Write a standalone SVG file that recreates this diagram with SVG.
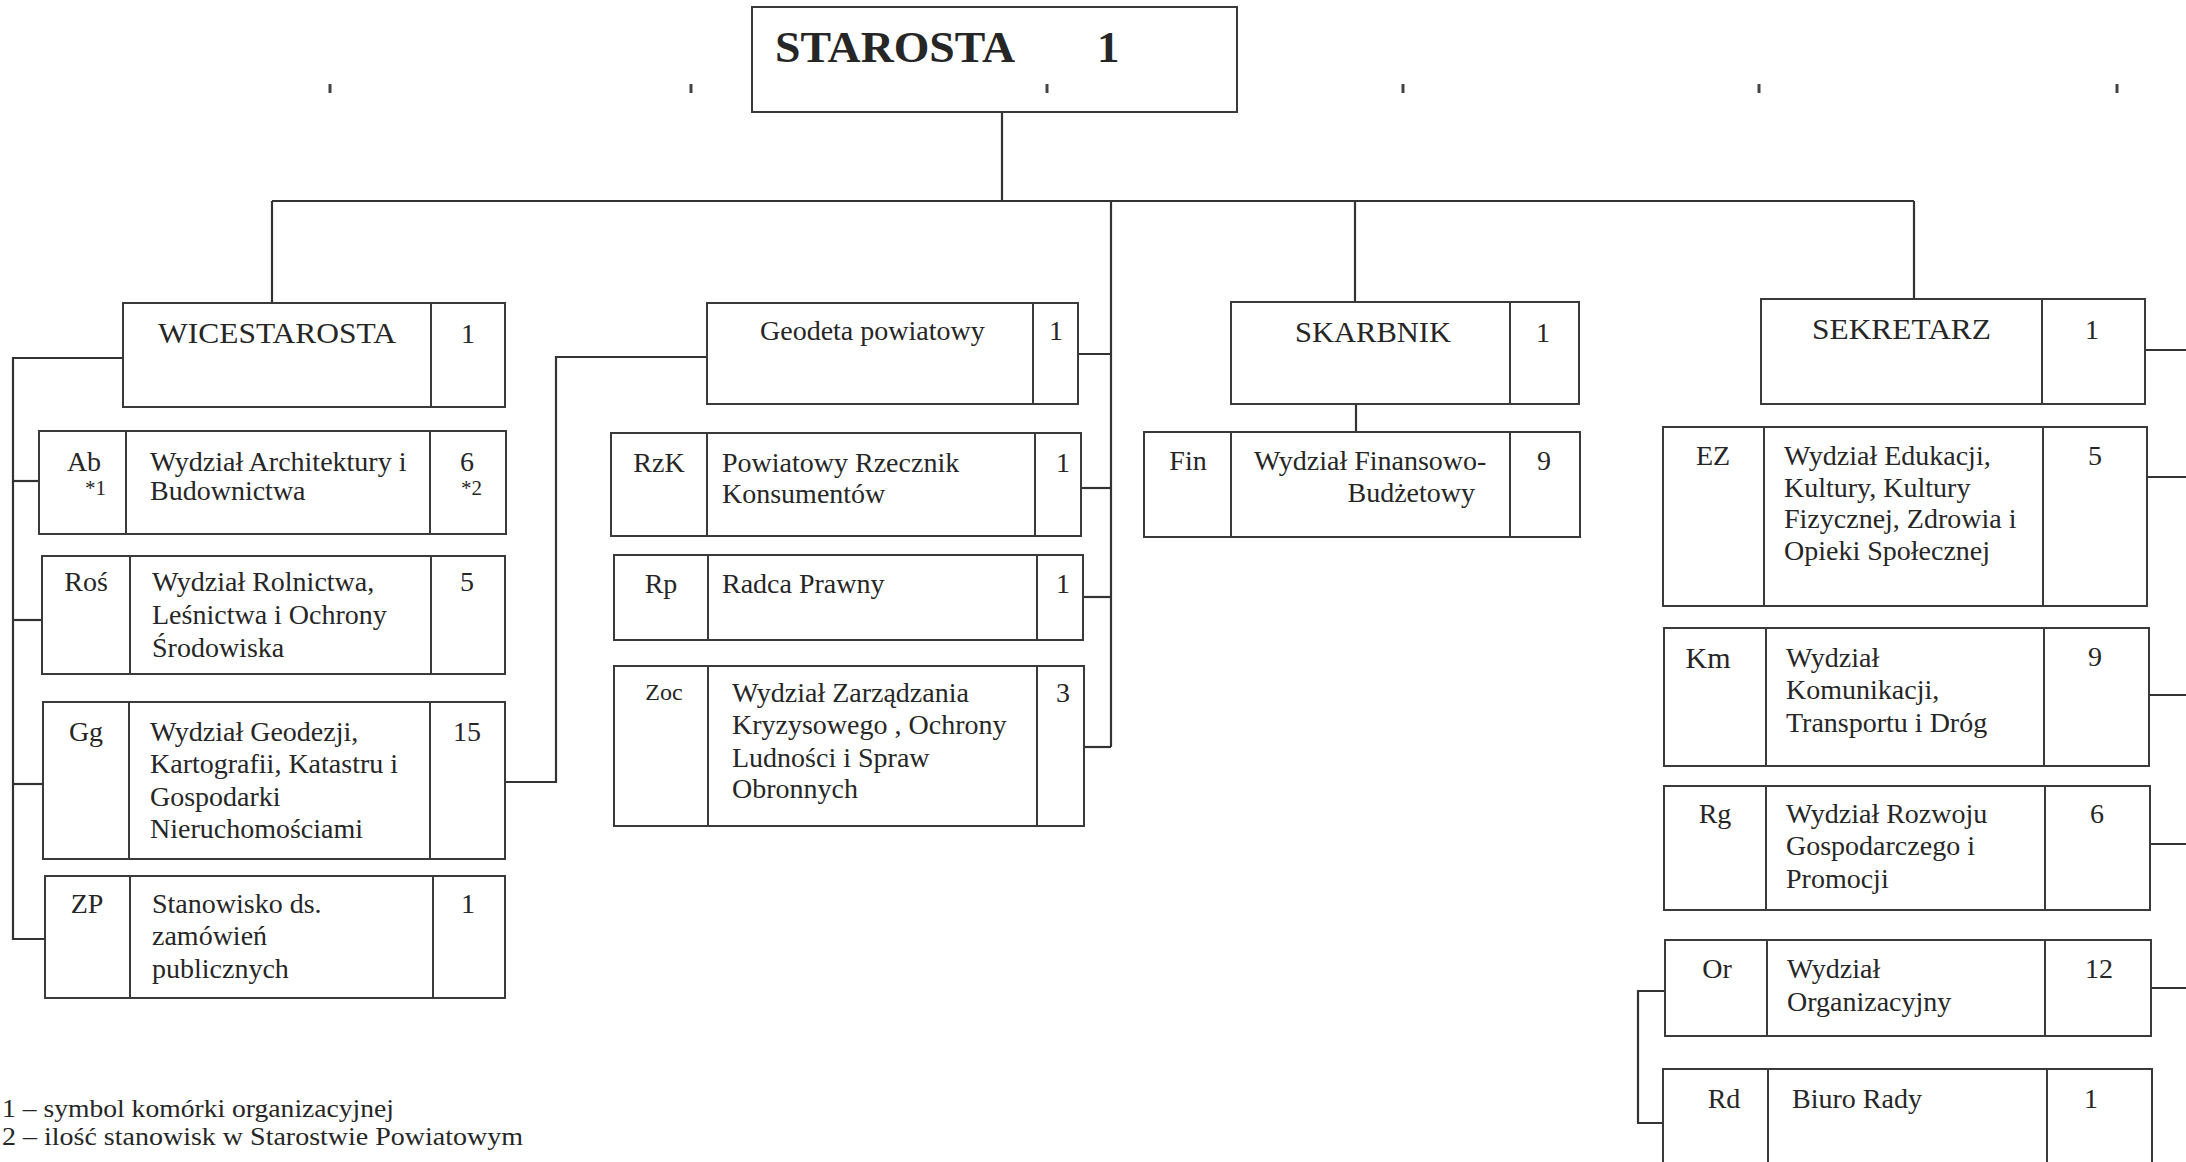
<svg xmlns="http://www.w3.org/2000/svg" width="2186" height="1162" viewBox="0 0 2186 1162">
<style>
  .bx{fill:none;stroke:#3a3a3a;stroke-width:2}
  .dv{stroke:#3a3a3a;stroke-width:2}
  .cn{fill:none;stroke:#333;stroke-width:2.2}
  text{font-family:"Liberation Serif","Times New Roman",serif;fill:#262626}
  .t{font-size:28px}
  .h{font-size:30px}
  .c{font-size:28px;text-anchor:middle}
  .s{font-size:21px}
  .tick{stroke:#444;stroke-width:3}
</style>
<rect width="2186" height="1162" fill="#fff"/>

<g id="ticks">
  <line class="tick" x1="330" y1="84" x2="330" y2="93"/>
  <line class="tick" x1="691" y1="84" x2="691" y2="93"/>
  <line class="tick" x1="1047" y1="84" x2="1047" y2="93"/>
  <line class="tick" x1="1403" y1="84" x2="1403" y2="93"/>
  <line class="tick" x1="1759" y1="84" x2="1759" y2="93"/>
  <line class="tick" x1="2117" y1="84" x2="2117" y2="93"/>
</g>

<g id="connectors">
  <path class="cn" d="M1002 112 V201"/>
  <path class="cn" d="M272 201 H1914"/>
  <path class="cn" d="M272 201 V303"/>
  <path class="cn" d="M1111 201 V747"/>
  <path class="cn" d="M1355 201 V302"/>
  <path class="cn" d="M1914 201 V299"/>
  <path class="cn" d="M123 358 H13 V939 H45"/>
  <path class="cn" d="M13 481 H39"/>
  <path class="cn" d="M13 620 H42"/>
  <path class="cn" d="M13 784 H43"/>
  <path class="cn" d="M707 357 H556 V782 H505"/>
  <path class="cn" d="M1078 354 H1111"/>
  <path class="cn" d="M1081 488 H1111"/>
  <path class="cn" d="M1083 597 H1111"/>
  <path class="cn" d="M1084 747 H1111"/>
  <path class="cn" d="M1356 404 V432"/>
  <path class="cn" d="M2145 350 H2186"/>
  <path class="cn" d="M2147 477 H2186"/>
  <path class="cn" d="M2149 695 H2186"/>
  <path class="cn" d="M2150 844 H2186"/>
  <path class="cn" d="M2151 988 H2186"/>
  <path class="cn" d="M1665 991 H1638 V1123 H1663"/>
</g>

<g id="starosta">
  <rect class="bx" x="752" y="7" width="485" height="105"/>
  <text x="775" y="62" font-size="45" font-weight="bold" textLength="240" lengthAdjust="spacingAndGlyphs">STAROSTA</text>
  <text x="1097" y="62" font-size="45" font-weight="bold">1</text>
</g>

<g id="wicestarosta">
  <rect class="bx" x="123" y="303" width="382" height="104"/>
  <line class="dv" x1="431" y1="303" x2="431" y2="407"/>
  <text class="h" x="158" y="343" textLength="238" lengthAdjust="spacingAndGlyphs">WICESTAROSTA</text>
  <text class="c" x="468" y="343">1</text>
</g>

<g id="geodeta">
  <rect class="bx" x="707" y="303" width="371" height="101"/>
  <line class="dv" x1="1033" y1="303" x2="1033" y2="404"/>
  <text class="t" x="760" y="340">Geodeta powiatowy</text>
  <text class="c" x="1056" y="340">1</text>
</g>

<g id="skarbnik">
  <rect class="bx" x="1231" y="302" width="348" height="102"/>
  <line class="dv" x1="1510" y1="302" x2="1510" y2="404"/>
  <text class="h" x="1295" y="342" textLength="156" lengthAdjust="spacingAndGlyphs">SKARBNIK</text>
  <text class="c" x="1543" y="342">1</text>
</g>

<g id="sekretarz">
  <rect class="bx" x="1761" y="299" width="384" height="105"/>
  <line class="dv" x1="2042" y1="299" x2="2042" y2="404"/>
  <text class="h" x="1812" y="339" textLength="179" lengthAdjust="spacingAndGlyphs">SEKRETARZ</text>
  <text class="c" x="2092" y="339">1</text>
</g>

<g id="ab">
  <rect class="bx" x="39" y="431" width="467" height="103"/>
  <line class="dv" x1="126" y1="431" x2="126" y2="534"/>
  <line class="dv" x1="430" y1="431" x2="430" y2="534"/>
  <text class="c" x="84" y="471">Ab</text>
  <text class="s" x="85" y="495">*1</text>
  <text class="t" x="150" y="471">Wydział Architektury i</text>
  <text class="t" x="150" y="500">Budownictwa</text>
  <text class="c" x="467" y="471">6</text>
  <text class="s" x="461" y="495">*2</text>
</g>

<g id="ros">
  <rect class="bx" x="42" y="556" width="463" height="118"/>
  <line class="dv" x1="130" y1="556" x2="130" y2="674"/>
  <line class="dv" x1="431" y1="556" x2="431" y2="674"/>
  <text class="c" x="86" y="591">Roś</text>
  <text class="t" x="152" y="591">Wydział Rolnictwa,</text>
  <text class="t" x="152" y="624">Leśnictwa i Ochrony</text>
  <text class="t" x="152" y="657">Środowiska</text>
  <text class="c" x="467" y="591">5</text>
</g>

<g id="gg">
  <rect class="bx" x="43" y="702" width="462" height="157"/>
  <line class="dv" x1="129" y1="702" x2="129" y2="859"/>
  <line class="dv" x1="430" y1="702" x2="430" y2="859"/>
  <text class="c" x="86" y="741">Gg</text>
  <text class="t" x="150" y="741">Wydział Geodezji,</text>
  <text class="t" x="150" y="773">Kartografii, Katastru i</text>
  <text class="t" x="150" y="806">Gospodarki</text>
  <text class="t" x="150" y="838">Nieruchomościami</text>
  <text class="c" x="467" y="741">15</text>
</g>

<g id="zp">
  <rect class="bx" x="45" y="876" width="460" height="122"/>
  <line class="dv" x1="130" y1="876" x2="130" y2="998"/>
  <line class="dv" x1="433" y1="876" x2="433" y2="998"/>
  <text class="c" x="87" y="913">ZP</text>
  <text class="t" x="152" y="913">Stanowisko ds.</text>
  <text class="t" x="152" y="945">zamówień</text>
  <text class="t" x="152" y="978">publicznych</text>
  <text class="c" x="468" y="913">1</text>
</g>

<g id="rzk">
  <rect class="bx" x="611" y="433" width="470" height="103"/>
  <line class="dv" x1="707" y1="433" x2="707" y2="536"/>
  <line class="dv" x1="1035" y1="433" x2="1035" y2="536"/>
  <text class="c" x="659" y="472">RzK</text>
  <text class="t" x="722" y="472">Powiatowy Rzecznik</text>
  <text class="t" x="722" y="503">Konsumentów</text>
  <text class="c" x="1063" y="472">1</text>
</g>

<g id="rp">
  <rect class="bx" x="614" y="555" width="469" height="85"/>
  <line class="dv" x1="708" y1="555" x2="708" y2="640"/>
  <line class="dv" x1="1037" y1="555" x2="1037" y2="640"/>
  <text class="c" x="661" y="593">Rp</text>
  <text class="t" x="722" y="593">Radca Prawny</text>
  <text class="c" x="1063" y="593">1</text>
</g>

<g id="zoc">
  <rect class="bx" x="614" y="666" width="470" height="160"/>
  <line class="dv" x1="708" y1="666" x2="708" y2="826"/>
  <line class="dv" x1="1037" y1="666" x2="1037" y2="826"/>
  <text x="664" y="700" font-size="24" text-anchor="middle">Zoc</text>
  <text class="t" x="732" y="702">Wydział Zarządzania</text>
  <text class="t" x="732" y="734">Kryzysowego , Ochrony</text>
  <text class="t" x="732" y="767">Ludności i Spraw</text>
  <text class="t" x="732" y="798">Obronnych</text>
  <text class="c" x="1063" y="702">3</text>
</g>

<g id="fin">
  <rect class="bx" x="1144" y="432" width="436" height="105"/>
  <line class="dv" x1="1231" y1="432" x2="1231" y2="537"/>
  <line class="dv" x1="1510" y1="432" x2="1510" y2="537"/>
  <text class="c" x="1188" y="470">Fin</text>
  <text class="t" x="1254" y="470">Wydział Finansowo-</text>
  <text class="t" x="1475" y="502" text-anchor="end">Budżetowy</text>
  <text class="c" x="1544" y="470">9</text>
</g>

<g id="ez">
  <rect class="bx" x="1663" y="427" width="484" height="179"/>
  <line class="dv" x1="1764" y1="427" x2="1764" y2="606"/>
  <line class="dv" x1="2043" y1="427" x2="2043" y2="606"/>
  <text class="c" x="1713" y="465">EZ</text>
  <text class="t" x="1784" y="465">Wydział Edukacji,</text>
  <text class="t" x="1784" y="497">Kultury, Kultury</text>
  <text class="t" x="1784" y="528">Fizycznej, Zdrowia i</text>
  <text class="t" x="1784" y="560">Opieki Społecznej</text>
  <text class="c" x="2095" y="465">5</text>
</g>

<g id="km">
  <rect class="bx" x="1664" y="628" width="485" height="138"/>
  <line class="dv" x1="1766" y1="628" x2="1766" y2="766"/>
  <line class="dv" x1="2044" y1="628" x2="2044" y2="766"/>
  <text x="1708" y="668" font-size="30" text-anchor="middle">Km</text>
  <text class="t" x="1786" y="667">Wydział</text>
  <text class="t" x="1786" y="699">Komunikacji,</text>
  <text class="t" x="1786" y="732">Transportu i Dróg</text>
  <text class="c" x="2095" y="666">9</text>
</g>

<g id="rg">
  <rect class="bx" x="1664" y="786" width="486" height="124"/>
  <line class="dv" x1="1766" y1="786" x2="1766" y2="910"/>
  <line class="dv" x1="2045" y1="786" x2="2045" y2="910"/>
  <text class="c" x="1715" y="823">Rg</text>
  <text class="t" x="1786" y="823">Wydział Rozwoju</text>
  <text class="t" x="1786" y="855">Gospodarczego i</text>
  <text class="t" x="1786" y="888">Promocji</text>
  <text class="c" x="2097" y="823">6</text>
</g>

<g id="or">
  <rect class="bx" x="1665" y="940" width="486" height="96"/>
  <line class="dv" x1="1767" y1="940" x2="1767" y2="1036"/>
  <line class="dv" x1="2045" y1="940" x2="2045" y2="1036"/>
  <text class="c" x="1717" y="978">Or</text>
  <text class="t" x="1787" y="978">Wydział</text>
  <text class="t" x="1787" y="1011">Organizacyjny</text>
  <text class="c" x="2099" y="978">12</text>
</g>

<g id="rd">
  <rect class="bx" x="1663" y="1069" width="489" height="120"/>
  <line class="dv" x1="1768" y1="1069" x2="1768" y2="1189"/>
  <line class="dv" x1="2047" y1="1069" x2="2047" y2="1189"/>
  <text class="c" x="1724" y="1108">Rd</text>
  <text class="t" x="1792" y="1108">Biuro Rady</text>
  <text class="c" x="2091" y="1108">1</text>
</g>

<g id="legend">
  <text x="2" y="1117" font-size="26" textLength="392" lengthAdjust="spacingAndGlyphs">1 – symbol komórki organizacyjnej</text>
  <text x="2" y="1145" font-size="26" textLength="521" lengthAdjust="spacingAndGlyphs">2 – ilość stanowisk w Starostwie Powiatowym</text>
</g>
</svg>
